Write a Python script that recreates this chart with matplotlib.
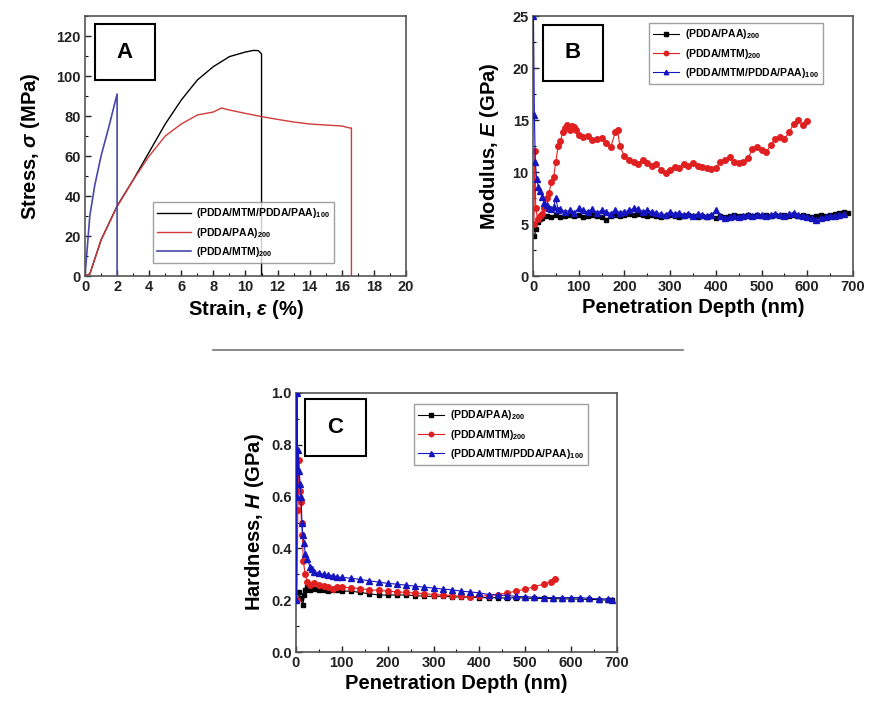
import matplotlib
matplotlib.use("Agg")
import matplotlib.pyplot as plt
from matplotlib.lines import Line2D
from matplotlib.ticker import MultipleLocator, AutoMinorLocator

plt.rcParams['font.family'] = ['Liberation Sans', 'DejaVu Sans']
plt.rcParams['mathtext.fontset'] = 'custom'
plt.rcParams['mathtext.it'] = 'Liberation Sans:italic:bold'
plt.rcParams['mathtext.rm'] = 'Liberation Sans:bold'

# ---------------- Panel A: stress-strain ----------------
strain_a_black = [0, 0.3, 1, 2, 3, 4, 5, 6, 7, 8, 9, 10, 10.5, 10.8, 11.0, 11.0]
stress_a_black = [0, 1, 18, 35, 48, 62, 76, 88, 98, 104.7, 109.7, 112, 112.8, 112.7, 111, 0]
strain_a_red = [0, 0.3, 1, 2, 3, 4, 5, 6, 7, 8, 8.5, 9, 10, 11, 12, 13, 14, 15, 16, 16.5, 16.6, 16.6]
stress_a_red = [0, 1, 18, 34.7, 48, 60, 70, 76, 80.5, 82, 84, 83, 81.3, 79.7, 78.3, 77, 76, 75.5, 75, 74, 74, 0]
strain_a_blue = [0, 0.3, 0.6, 1.0, 1.5, 2.0, 2.0]
stress_a_blue = [0, 30, 45, 60, 75, 91, 0]
labels_a = ["(PDDA/MTM/PDDA/PAA)$_{100}$", "(PDDA/PAA)$_{200}$", "(PDDA/MTM)$_{200}$"]

# ---------------- Panel B: modulus ----------------
depth_b_black = [3, 6, 10, 15, 20, 30, 40, 50, 60, 70, 80, 90, 100, 110, 120, 130, 140, 150, 160, 170,
                 180, 190, 200, 210, 220, 230, 240, 250, 260, 270, 280, 290, 300, 310, 320, 330, 340, 350,
                 360, 370, 380, 390, 400, 410, 420, 430, 440, 450, 460, 470, 480, 490, 500, 510, 520, 530,
                 540, 550, 560, 570, 580, 590, 600, 610, 620, 630, 640, 650, 660, 670, 680, 690]
mod_b_black = [3.8, 4.5, 5.2, 5.5, 5.6, 5.8, 5.7, 5.9, 5.7, 5.8, 5.9, 5.8, 5.9, 5.7, 5.8, 5.9, 5.8, 5.7, 5.4, 5.8,
               5.9, 5.8, 5.9, 6.0, 5.9, 6.0, 5.9, 5.8, 5.9, 5.8, 5.7, 5.8, 5.9, 5.8, 5.7, 5.8, 5.9, 5.8,
               5.7, 5.8, 5.7, 5.8, 5.6, 5.8, 5.7, 5.8, 5.9, 5.8, 5.8, 5.9, 5.8, 5.9, 5.8, 5.9, 5.8, 5.9,
               5.8, 5.9, 5.8, 5.9, 5.8, 5.9, 5.8, 5.7, 5.8, 5.9, 5.8, 5.9, 6.0, 6.1, 6.2, 6.1]
depth_b_red = [2, 4, 6, 10, 15, 20, 25, 30, 35, 40, 45, 50, 55, 60, 65, 70, 75, 80, 85, 90, 95, 100, 110,
               120, 130, 140, 150, 160, 170, 180, 185, 190, 200, 210, 220, 230, 240, 250, 260, 270, 280,
               290, 300, 310, 320, 330, 340, 350, 360, 370, 380, 390, 400, 410, 420, 430, 440, 450, 460,
               470, 480, 490, 500, 510, 520, 530, 540, 550, 560, 570, 580, 590, 600]
mod_b_red = [5.0, 12.0, 6.5, 5.5, 5.8, 6.0, 6.5, 7.5, 8.0, 9.0, 9.5, 11.0, 12.5, 13.0, 13.8, 14.2, 14.5, 14.0,
             14.4, 14.3, 14.0, 13.6, 13.4, 13.5, 13.1, 13.2, 13.3, 12.8, 12.4, 13.8, 14.0, 12.5, 11.5, 11.2,
             11.0, 10.8, 11.2, 10.9, 10.6, 10.8, 10.2, 9.9, 10.2, 10.5, 10.4, 10.8, 10.6, 10.9, 10.6, 10.5,
             10.4, 10.3, 10.4, 11.0, 11.2, 11.4, 11.0, 10.9, 11.0, 11.3, 12.2, 12.4, 12.1, 11.9, 12.6, 13.2,
             13.4, 13.2, 13.8, 14.6, 15.0, 14.5, 14.9]
depth_b_blue = [1, 3, 5, 8, 12, 16, 20, 25, 30, 35, 40, 45, 50, 55, 60, 70, 80, 90, 100, 110, 120, 130, 140,
                150, 160, 170, 180, 190, 200, 210, 220, 230, 240, 250, 260, 270, 280, 290, 300, 310, 320,
                330, 340, 350, 360, 370, 380, 390, 400, 410, 420, 430, 440, 450, 460, 470, 480, 490, 500,
                510, 520, 530, 540, 550, 560, 570, 580, 590, 600, 610, 620, 630, 640, 650, 660, 670, 680]
mod_b_blue = [25, 15.5, 11.0, 9.3, 8.6, 8.2, 7.6, 7.0, 6.8, 6.5, 6.4, 6.6, 7.5, 6.3, 6.4, 6.2, 6.3, 6.1, 6.5,
              6.3, 6.2, 6.4, 6.1, 6.3, 6.2, 6.0, 6.3, 6.1, 6.2, 6.3, 6.5, 6.4, 6.2, 6.3, 6.2, 6.1, 6.0, 5.9,
              6.2, 6.0, 6.1, 5.9, 6.0, 5.8, 6.0, 5.9, 5.8, 5.9, 6.3, 5.8, 5.6, 5.7, 5.8, 5.7, 5.8, 5.9, 5.8,
              5.9, 5.9, 5.8, 5.9, 6.0, 5.9, 5.8, 6.0, 6.1, 5.9, 5.8, 5.7, 5.6, 5.4, 5.6, 5.7, 5.8, 5.8, 5.9, 6.0]
labels_bc = ["(PDDA/PAA)$_{200}$", "(PDDA/MTM)$_{200}$", "(PDDA/MTM/PDDA/PAA)$_{100}$"]

# ---------------- Panel C: hardness ----------------
depth_c_black = [3, 6, 10, 15, 18, 20, 25, 30, 40, 50, 60, 70, 80, 90, 100, 120, 140, 160, 180, 200, 220,
                 240, 260, 280, 300, 320, 340, 360, 380, 400, 420, 440, 460, 480, 500, 520, 540, 560, 580,
                 600, 620, 640, 660, 680, 690]
hard_c_black = [0.2, 0.23, 0.21, 0.18, 0.22, 0.24, 0.25, 0.24, 0.245, 0.24, 0.24, 0.235, 0.24, 0.24, 0.235,
                0.235, 0.23, 0.225, 0.22, 0.22, 0.22, 0.22, 0.218, 0.215, 0.215, 0.215, 0.213, 0.212, 0.212,
                0.21, 0.21, 0.21, 0.208, 0.21, 0.208, 0.207, 0.207, 0.206, 0.205, 0.205, 0.204, 0.203, 0.202,
                0.2, 0.2]
depth_c_red = [2, 4, 6, 8, 10, 12, 14, 16, 20, 25, 30, 40, 50, 60, 70, 80, 90, 100, 120, 140, 160, 180, 200,
               220, 240, 260, 280, 300, 320, 340, 360, 380, 400, 420, 440, 460, 480, 500, 520, 540, 555, 565]
hard_c_red = [0.2, 0.55, 0.74, 0.62, 0.58, 0.5, 0.45, 0.35, 0.3, 0.27, 0.26, 0.265, 0.26, 0.255, 0.25, 0.245,
              0.25, 0.25, 0.248, 0.245, 0.24, 0.238, 0.235, 0.232, 0.23, 0.228, 0.225, 0.222, 0.22, 0.218,
              0.215, 0.213, 0.215, 0.218, 0.222, 0.228, 0.235, 0.243, 0.252, 0.262, 0.27, 0.28]
depth_c_blue = [1, 2, 3, 5, 7, 9, 11, 13, 15, 18, 20, 25, 30, 35, 40, 50, 60, 70, 80, 90, 100, 120, 140, 160,
                180, 200, 220, 240, 260, 280, 300, 320, 340, 360, 380, 400, 420, 440, 460, 480, 500, 520, 540,
                560, 580, 600, 620, 640, 660, 680, 690]
hard_c_blue = [0.2, 1.0, 0.6, 0.78, 0.7, 0.65, 0.6, 0.5, 0.45, 0.42, 0.38, 0.36, 0.33, 0.32, 0.31, 0.305,
               0.3, 0.298, 0.295, 0.29, 0.288, 0.285, 0.28, 0.275, 0.27, 0.265, 0.262, 0.258, 0.254, 0.25,
               0.247, 0.243, 0.24, 0.235, 0.232, 0.228, 0.222, 0.22, 0.218, 0.215, 0.213, 0.212, 0.21, 0.21,
               0.21, 0.21, 0.21, 0.207, 0.205, 0.205, 0.2]

W, H = 870, 709
fig = plt.figure(figsize=(W / 100, H / 100), dpi=100)


def ax_at(l, t, r, b):
    return fig.add_axes([l / W, 1 - b / H, (r - l) / W, (b - t) / H])


FRAME = '#555555'
LABEL_FS = 14.5


def style(ax):
    for s in ax.spines.values():
        s.set_color(FRAME)
        s.set_linewidth(1.2)
    ax.tick_params(direction='in', length=4, width=1, colors='#222222', labelsize=10.5, pad=3)
    ax.tick_params(which='minor', direction='in', length=2, width=0.8)
    for lab in ax.get_xticklabels() + ax.get_yticklabels():
        lab.set_fontweight('bold')
    ax.xaxis.set_minor_locator(AutoMinorLocator(2))
    ax.yaxis.set_minor_locator(AutoMinorLocator(2))


def label_box(text, l, t, r, b):
    fig.patches.append(plt.Rectangle((l / W, 1 - b / H), (r - l) / W, (b - t) / H, transform=fig.transFigure,
                                     fill=True, facecolor='white', edgecolor='black', linewidth=1.5, zorder=5))
    fig.text((l + r) / 2 / W, 1 - (t + b) / 2 / H, text, ha='center', va='center', fontsize=16,
             fontweight='bold', zorder=6)


def make_legend(ax, x, y, hl):
    leg = ax.legend(loc='upper left', bbox_to_anchor=(x, y), frameon=True, fancybox=False,
                    edgecolor='#888888', handlelength=hl, borderpad=0.4, labelspacing=0.5,
                    handletextpad=0.5, markerscale=0.8, prop={'weight': 'bold', 'size': 7.5})
    leg.get_frame().set_linewidth(1.0)
    return leg


# Panel A
axA = ax_at(85, 16, 406, 276)
axA.plot(strain_a_black, stress_a_black, color='black', lw=1.0, label=labels_a[0])
axA.plot(strain_a_red, stress_a_red, color='#d03a3a', lw=1.0, label=labels_a[1])
axA.plot(strain_a_blue, stress_a_blue, color='#4848a8', lw=1.2, label=labels_a[2])
axA.set_xlim(0, 20)
axA.set_ylim(0, 130)
axA.xaxis.set_major_locator(MultipleLocator(2))
axA.yaxis.set_major_locator(MultipleLocator(20))
style(axA)
axA.set_xlabel(r"Strain, $\varepsilon$ (%)", fontsize=LABEL_FS, fontweight='bold', labelpad=3)
axA.set_ylabel(r"Stress, $\sigma$ (MPa)", fontsize=LABEL_FS, fontweight='bold', labelpad=10)
make_legend(axA, (148 - 85) / 321, (276 - 197) / 260, 3.2)

# Panel B
axB = ax_at(533, 16, 853, 276)
axB.plot(depth_b_black, mod_b_black, color='black', marker='s', ms=3.5, lw=0.8, label=labels_bc[0], zorder=2)
axB.plot(depth_b_red, mod_b_red, color='#e02020', marker='o', ms=4, lw=0.8, label=labels_bc[1], zorder=3)
axB.plot(depth_b_blue, mod_b_blue, color='#1515c0', marker='^', ms=4, lw=0.8, label=labels_bc[2], zorder=4)
axB.set_xlim(0, 700)
axB.set_ylim(0, 25)
axB.xaxis.set_major_locator(MultipleLocator(100))
axB.yaxis.set_major_locator(MultipleLocator(5))
style(axB)
axB.set_xlabel("Penetration Depth (nm)", fontsize=LABEL_FS, fontweight='bold', labelpad=3)
axB.set_ylabel(r"Modulus, $E$ (GPa)", fontsize=LABEL_FS, fontweight='bold', labelpad=8)
make_legend(axB, (644 - 533) / 320, (276 - 18) / 260, 2.5)

# Panel C
axC = ax_at(296, 393, 617, 652)
axC.plot(depth_c_black, hard_c_black, color='black', marker='s', ms=3.5, lw=0.8, label=labels_bc[0], zorder=2)
axC.plot(depth_c_red, hard_c_red, color='#e02020', marker='o', ms=4, lw=0.8, label=labels_bc[1], zorder=3)
axC.plot(depth_c_blue, hard_c_blue, color='#1515c0', marker='^', ms=4.5, lw=0.8, label=labels_bc[2], zorder=4)
axC.set_xlim(0, 700)
axC.set_ylim(0, 1.0)
axC.xaxis.set_major_locator(MultipleLocator(100))
axC.yaxis.set_major_locator(MultipleLocator(0.2))
style(axC)
axC.set_xlabel("Penetration Depth (nm)", fontsize=LABEL_FS, fontweight='bold', labelpad=3)
axC.set_ylabel(r"Hardness, $H$ (GPa)", fontsize=LABEL_FS, fontweight='bold', labelpad=4)
make_legend(axC, (409 - 296) / 321, (652 - 399) / 259, 2.5)

# panel label boxes
label_box("A", 95, 24, 155, 80)
label_box("B", 543, 25, 603, 81)
label_box("C", 305, 399, 366, 456)

# separator line
fig.add_artist(Line2D([213 / W, 683 / W], [1 - 350 / H, 1 - 350 / H], color='#777777', lw=1.2))

fig.savefig("out.png", dpi=100, facecolor='white')
